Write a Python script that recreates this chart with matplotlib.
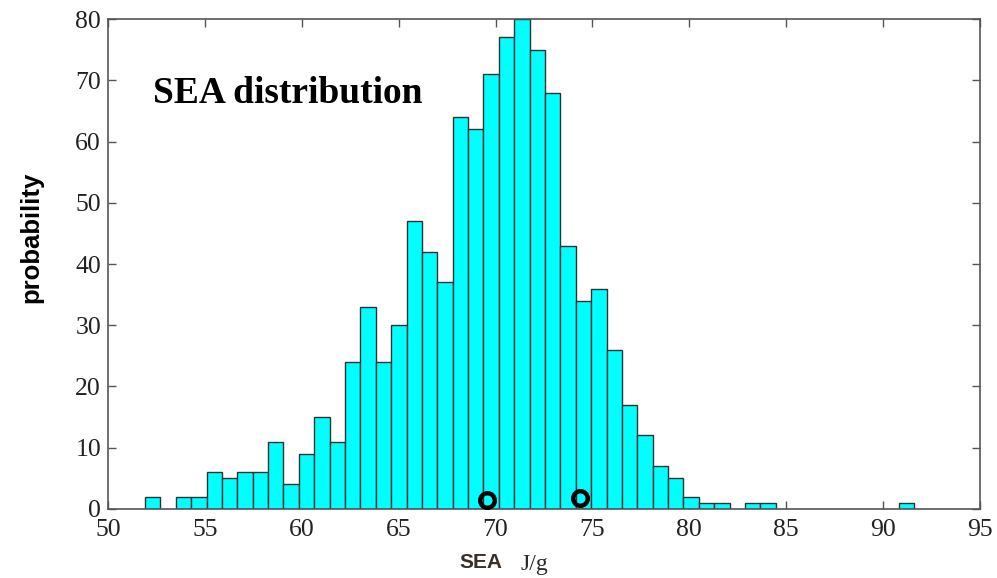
import numpy as np
import matplotlib.pyplot as plt

# Histogram of specific energy absorption (50 equal-width bins)
bin_lo, bin_hi = 51.91, 91.61
counts = [2, 0, 2, 2, 6, 5, 6, 6, 11, 4,
          9, 15, 11, 24, 33, 24, 30, 47, 42, 37,
          64, 62, 71, 77, 80, 75, 68, 43, 34, 36,
          26, 17, 12, 7, 5, 2, 1, 1, 0, 1,
          1, 0, 0, 0, 0, 0, 0, 0, 0, 1]
# highlighted sample points
pt_x = [69.55, 74.35]
pt_y = [1.5, 1.8]

xticks = [50, 55, 60, 65, 70, 75, 80, 85, 90, 95]
yticks = [0, 10, 20, 30, 40, 50, 60, 70, 80]

edges = np.linspace(bin_lo, bin_hi, len(counts) + 1)
width = edges[1] - edges[0]
counts = np.array(counts)
keep = counts > 0

fig = plt.figure(figsize=(9.97, 5.78), dpi=100)
ax = fig.add_axes([0.1083, 0.1194, 0.8746, 0.8477])

ax.bar(edges[:-1][keep], counts[keep], width=width, align='edge',
       color='#00FFFF', edgecolor='#303030', linewidth=1.0, zorder=2)
ax.plot(pt_x, pt_y, 'o', ms=10.5, mfc='none', mec='black', mew=3.2, zorder=3)

ax.set_xlim(50, 95)
ax.set_ylim(0, 80)
ax.set_xticks(xticks)
ax.set_yticks(yticks)

tick_color = '#222222'
for s in ax.spines.values():
    s.set_color('#555555')
    s.set_linewidth(1.2)
ax.tick_params(direction='in', length=6, width=1, color='#555555',
               top=True, right=True, labelcolor=tick_color)
for lab in ax.get_xticklabels() + ax.get_yticklabels():
    lab.set_fontfamily('Liberation Serif')
    lab.set_fontsize(18.5)
ax.tick_params(axis='y', pad=5)
ax.tick_params(axis='x', pad=7)

ax.text(0.0512, 0.8286, 'SEA distribution', transform=ax.transAxes,
        fontfamily='Liberation Serif', fontweight='bold', fontsize=27,
        color='black', va='baseline', ha='left')

fig.text(0.031, 0.59, 'probability', rotation=90, ha='center', va='center',
         fontfamily='Liberation Sans', fontweight='bold', fontsize=18.5)

fig.text(0.482, 0.027, 'SEA', ha='center', va='center',
         fontfamily='Liberation Sans', fontweight='bold', fontsize=15,
         color='#3a3026')
fig.text(0.536, 0.024, 'J/g', ha='center', va='center',
         fontfamily='Liberation Serif', fontsize=17, color='#2b2b2b')

fig.savefig('out.png', dpi=100)
